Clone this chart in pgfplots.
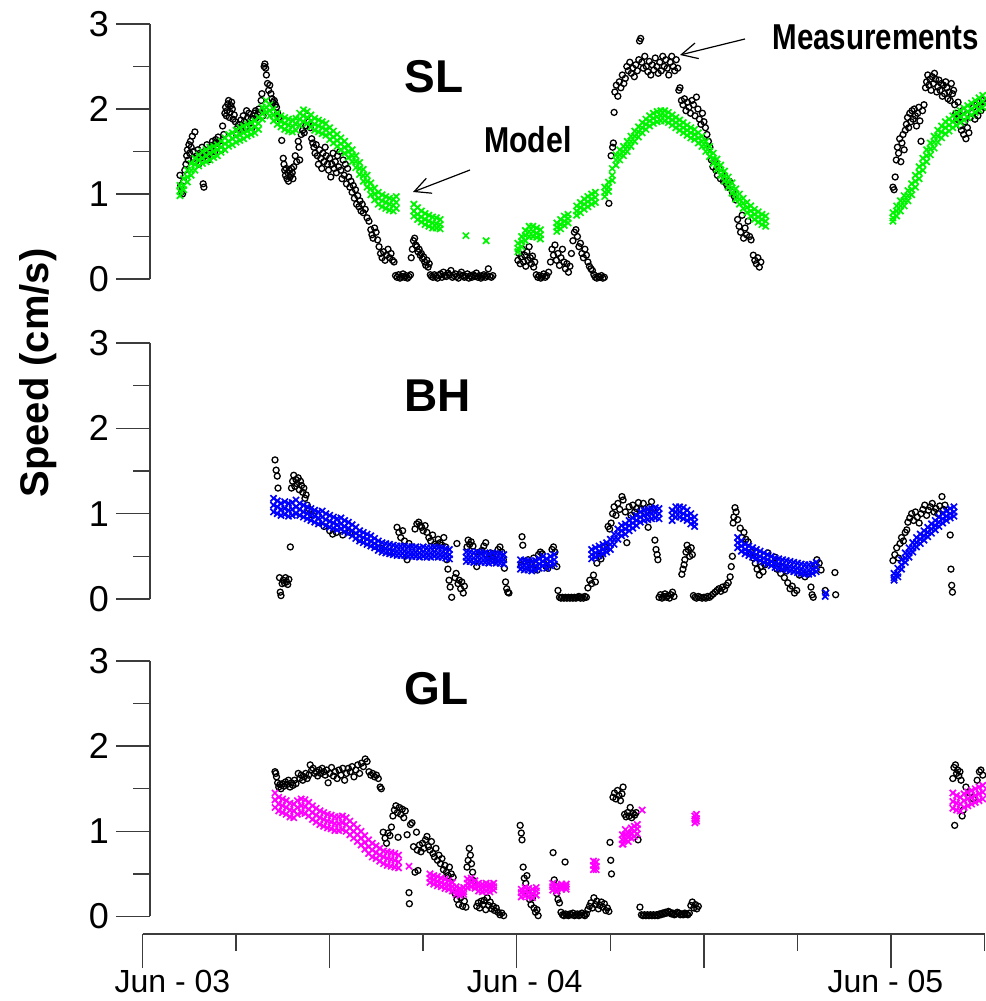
\documentclass[border=0pt]{standalone}
\usepackage{fontspec}
\setmainfont{Liberation Sans}
\usepackage{graphicx}
\usepackage{pgfplots}
\usepackage{pgfplotstable}
\pgfplotsset{compat=1.18}
\usetikzlibrary{arrows.meta}
\definecolor{mgreen}{RGB}{0,245,0}
\definecolor{mblue}{RGB}{0,0,255}
\definecolor{mmag}{RGB}{255,0,255}
\definecolor{axgray}{RGB}{60,60,60}

% ---------------- SL ----------------
\pgfplotstableread{
x y
0.100 1.22
0.102 1.10
0.104 1.02
0.107 1.00
0.110 1.15
0.113 1.28
0.116 1.35
0.118 1.45
0.120 1.52
0.122 1.40
0.124 1.58
0.126 1.48
0.128 1.62
0.130 1.55
0.133 1.68
0.136 1.50
0.138 1.42
0.140 1.73
0.142 1.38
0.145 1.45
0.148 1.52
0.150 1.35
0.153 1.48
0.156 1.42
0.159 1.55
0.162 1.12
0.164 1.08
0.166 1.50
0.169 1.45
0.172 1.58
0.175 1.40
0.178 1.52
0.181 1.48
0.184 1.56
0.187 1.62
0.190 1.58
0.193 1.50
0.196 1.64
0.199 1.60
0.202 1.67
0.205 1.62
0.208 1.58
0.211 1.52
0.214 1.80
0.217 1.70
0.220 1.95
0.222 2.02
0.224 1.92
0.226 1.98
0.228 2.06
0.230 2.10
0.232 1.90
0.234 1.96
0.236 2.04
0.238 2.08
0.240 2.00
0.242 1.88
0.245 1.93
0.248 1.85
0.251 1.70
0.254 1.78
0.257 1.82
0.260 1.76
0.263 1.87
0.266 1.80
0.269 1.92
0.272 1.85
0.275 1.78
0.278 1.98
0.281 1.90
0.284 1.95
0.287 1.83
0.290 1.88
0.293 1.78
0.296 1.92
0.299 1.95
0.302 1.98
0.305 1.90
0.308 1.94
0.311 2.00
0.314 1.96
0.317 2.10
0.319 2.18
0.322 1.92
0.325 2.50
0.327 2.53
0.329 2.48
0.331 2.40
0.334 2.30
0.337 2.22
0.340 2.28
0.343 2.18
0.346 2.12
0.349 2.08
0.352 2.10
0.355 2.05
0.358 2.02
0.361 1.95
0.364 1.90
0.367 1.88
0.372 1.63
0.376 1.42
0.378 1.35
0.380 1.28
0.382 1.22
0.384 1.30
0.386 1.18
0.388 1.25
0.390 1.15
0.392 1.28
0.394 1.20
0.396 1.22
0.398 1.30
0.400 1.25
0.402 1.18
0.404 1.32
0.408 1.45
0.412 1.38
0.416 1.62
0.418 1.55
0.420 1.40
0.424 1.70
0.428 1.75
0.432 1.72
0.436 1.80
0.440 1.92
0.444 1.85
0.448 1.78
0.452 1.65
0.455 1.60
0.458 1.55
0.461 1.48
0.464 1.58
0.467 1.45
0.470 1.35
0.473 1.52
0.476 1.42
0.479 1.30
0.482 1.48
0.485 1.38
0.488 1.55
0.491 1.45
0.494 1.35
0.497 1.28
0.500 1.42
0.503 1.20
0.506 1.35
0.509 1.48
0.512 1.30
0.515 1.38
0.518 1.25
0.521 1.45
0.524 1.32
0.527 1.50
0.530 1.28
0.533 1.18
0.536 1.40
0.539 1.22
0.542 1.35
0.545 1.12
0.548 1.30
0.551 1.20
0.554 1.08
0.557 1.15
0.560 1.02
0.563 1.10
0.566 0.95
0.569 1.05
0.572 0.88
0.575 0.98
0.578 0.85
0.581 0.92
0.584 0.80
0.587 0.88
0.590 0.78
0.595 0.82
0.600 0.72
0.605 0.68
0.610 0.58
0.613 0.52
0.616 0.48
0.620 0.60
0.624 0.55
0.628 0.46
0.632 0.38
0.636 0.30
0.640 0.25
0.644 0.32
0.648 0.22
0.652 0.28
0.656 0.35
0.660 0.25
0.664 0.30
0.668 0.22
0.672 0.20
0.676 0.04
0.680 0.02
0.684 0.05
0.688 0.01
0.692 0.03
0.696 0.06
0.700 0.02
0.704 0.04
0.708 0.01
0.712 0.03
0.716 0.05
0.718 0.25
0.721 0.35
0.724 0.45
0.727 0.48
0.730 0.40
0.733 0.38
0.736 0.32
0.739 0.35
0.742 0.28
0.745 0.30
0.748 0.24
0.751 0.26
0.754 0.20
0.757 0.16
0.760 0.22
0.763 0.14
0.766 0.18
0.769 0.05
0.772 0.03
0.776 0.02
0.780 0.05
0.784 0.03
0.788 0.01
0.792 0.04
0.796 0.06
0.800 0.02
0.804 0.08
0.808 0.04
0.812 0.03
0.816 0.07
0.820 0.05
0.824 0.10
0.828 0.02
0.832 0.04
0.836 0.06
0.840 0.03
0.844 0.01
0.848 0.05
0.852 0.08
0.856 0.04
0.860 0.02
0.864 0.03
0.868 0.06
0.872 0.01
0.876 0.04
0.880 0.02
0.884 0.05
0.888 0.03
0.892 0.07
0.896 0.02
0.900 0.04
0.904 0.01
0.908 0.03
0.912 0.05
0.916 0.02
0.920 0.04
0.924 0.12
0.928 0.03
0.932 0.02
0.936 0.04
1.003 0.22
1.006 0.30
1.009 0.18
1.012 0.26
1.015 0.35
1.018 0.20
1.021 0.28
1.024 0.15
1.027 0.32
1.030 0.22
1.033 0.38
1.036 0.25
1.039 0.18
1.042 0.27
1.045 0.14
1.048 0.20
1.052 0.05
1.056 0.02
1.060 0.04
1.064 0.01
1.068 0.03
1.072 0.06
1.076 0.02
1.080 0.04
1.085 0.08
1.090 0.20
1.094 0.35
1.098 0.28
1.102 0.40
1.106 0.22
1.110 0.30
1.114 0.16
1.118 0.25
1.122 0.35
1.126 0.20
1.130 0.12
1.134 0.18
1.138 0.08
1.142 0.15
1.146 0.30
1.150 0.45
1.154 0.55
1.158 0.58
1.162 0.50
1.166 0.38
1.170 0.42
1.174 0.30
1.178 0.25
1.182 0.35
1.186 0.28
1.190 0.20
1.194 0.15
1.198 0.12
1.202 0.10
1.206 0.05
1.210 0.02
1.214 0.01
1.218 0.03
1.222 0.02
1.226 0.04
1.230 0.01
1.234 0.02
1.246 0.89
1.252 1.45
1.256 1.55
1.258 1.60
1.260 1.96
1.262 2.20
1.266 2.28
1.270 2.15
1.274 2.32
1.278 2.25
1.282 2.40
1.286 2.30
1.290 2.36
1.294 2.50
1.298 2.45
1.302 2.55
1.306 2.42
1.310 2.48
1.314 2.38
1.318 2.52
1.322 2.45
1.326 2.58
1.328 2.80
1.331 2.83
1.334 2.55
1.338 2.48
1.342 2.62
1.346 2.50
1.350 2.44
1.354 2.56
1.358 2.40
1.362 2.52
1.366 2.46
1.370 2.60
1.374 2.50
1.378 2.42
1.382 2.55
1.386 2.45
1.390 2.62
1.394 2.50
1.398 2.58
1.402 2.48
1.406 2.40
1.410 2.55
1.414 2.62
1.418 2.50
1.422 2.45
1.426 2.58
1.430 2.48
1.433 2.22
1.436 2.25
1.440 2.10
1.444 2.05
1.448 2.12
1.452 1.98
1.456 2.08
1.460 2.02
1.464 1.95
1.468 2.10
1.472 2.05
1.476 1.92
1.480 2.14
1.484 2.00
1.488 1.88
1.492 1.82
1.496 1.95
1.500 1.85
1.504 1.78
1.508 1.70
1.512 1.62
1.516 1.55
1.520 1.40
1.524 1.32
1.528 1.38
1.532 1.28
1.536 1.22
1.540 1.30
1.544 1.18
1.548 1.25
1.552 1.15
1.556 1.20
1.560 1.12
1.564 1.08
1.568 1.15
1.572 1.10
1.576 1.02
1.580 0.98
1.585 0.93
1.590 0.70
1.594 0.62
1.598 0.55
1.602 0.75
1.606 0.48
1.610 0.60
1.614 0.52
1.618 0.68
1.622 0.50
1.626 0.46
1.632 0.28
1.636 0.22
1.640 0.18
1.644 0.25
1.648 0.14
1.652 0.20
2.005 1.08
2.008 1.05
2.011 1.20
2.014 1.40
2.017 1.55
2.020 1.48
2.023 1.65
2.026 1.38
2.029 1.60
2.032 1.70
2.035 1.52
2.038 1.75
2.041 1.82
2.044 1.90
2.047 1.78
2.050 1.95
2.053 1.85
2.056 1.98
2.059 1.88
2.062 2.00
2.065 1.92
2.068 1.80
2.071 1.95
2.074 2.02
2.077 1.86
2.080 1.62
2.084 1.98
2.088 2.05
2.092 2.25
2.095 2.32
2.098 2.40
2.101 2.28
2.104 2.35
2.107 2.22
2.110 2.38
2.113 2.30
2.116 2.42
2.119 2.35
2.122 2.20
2.125 2.26
2.128 2.34
2.131 2.22
2.134 2.30
2.137 2.15
2.140 2.28
2.143 2.18
2.146 2.32
2.149 2.25
2.152 2.12
2.155 2.20
2.158 2.10
2.161 2.30
2.164 2.18
2.167 2.22
2.170 2.05
2.173 1.95
2.176 1.88
2.179 2.08
2.182 1.90
2.185 1.80
2.188 1.75
2.191 1.98
2.194 1.70
2.197 1.85
2.200 1.65
2.204 1.78
2.208 1.72
2.212 1.90
2.216 1.95
2.220 2.02
2.224 1.88
2.228 2.05
2.232 1.92
2.236 2.08
2.240 1.98
2.244 2.10
2.248 2.02
}\slmeas

\pgfplotstableread{
x hi mid lo
0.100 1.10 1.03 0.98
0.110 1.18 1.10 1.05
0.120 1.28 1.20 1.14
0.130 1.36 1.28 1.22
0.140 1.42 1.35 1.28
0.150 1.46 1.40 1.33
0.160 1.50 1.42 1.36
0.170 1.52 1.45 1.38
0.180 1.55 1.48 1.40
0.190 1.56 1.50 1.43
0.200 1.58 1.52 1.45
0.210 1.62 1.55 1.49
0.220 1.66 1.59 1.52
0.230 1.70 1.62 1.56
0.240 1.72 1.65 1.58
0.250 1.75 1.68 1.61
0.260 1.78 1.70 1.63
0.270 1.80 1.72 1.65
0.280 1.82 1.74 1.68
0.290 1.84 1.76 1.70
0.300 1.86 1.79 1.72
0.310 1.90 1.83 1.76
0.320 2.02 1.95 1.88
0.330 2.10 2.02 1.96
0.340 2.05 1.98 1.92
0.350 2.00 1.93 1.86
0.360 1.95 1.88 1.82
0.370 1.92 1.85 1.79
0.380 1.90 1.83 1.76
0.390 1.88 1.81 1.74
0.400 1.87 1.80 1.73
0.410 1.89 1.82 1.75
0.420 1.95 1.88 1.81
0.430 1.99 1.92 1.85
0.440 1.97 1.90 1.83
0.450 1.93 1.86 1.79
0.460 1.89 1.82 1.75
0.470 1.87 1.80 1.73
0.480 1.85 1.78 1.71
0.490 1.83 1.76 1.69
0.500 1.78 1.71 1.64
0.510 1.74 1.67 1.60
0.520 1.70 1.63 1.56
0.530 1.66 1.59 1.52
0.540 1.62 1.55 1.48
0.550 1.57 1.50 1.43
0.560 1.52 1.45 1.38
0.570 1.45 1.38 1.31
0.580 1.37 1.30 1.23
0.590 1.29 1.22 1.15
0.600 1.22 1.15 1.08
0.610 1.13 1.06 0.99
0.620 1.07 1.00 0.93
0.630 1.02 0.95 0.88
0.640 0.99 0.92 0.85
0.650 0.97 0.90 0.83
0.660 0.95 0.88 0.81
0.670 0.94 0.87 0.80
0.678 0.97 0.90 0.83
0.725 0.88 0.80 0.74
0.735 0.84 0.76 0.70
0.745 0.80 0.73 0.67
0.755 0.77 0.70 0.64
0.765 0.75 0.68 0.62
0.775 0.73 0.66 0.60
0.785 0.72 0.65 0.60
0.795 0.70 0.64 0.59
1.003 0.42 0.36 0.32
1.013 0.50 0.44 0.38
1.023 0.57 0.51 0.45
1.033 0.62 0.56 0.50
1.043 0.62 0.56 0.50
1.053 0.60 0.54 0.49
1.063 0.58 0.52 0.47
1.107 0.66 0.61 0.56
1.117 0.70 0.64 0.59
1.127 0.74 0.68 0.63
1.137 0.76 0.71 0.66
1.160 0.86 0.80 0.75
1.170 0.90 0.84 0.78
1.180 0.94 0.88 0.82
1.190 0.97 0.91 0.85
1.200 1.00 0.94 0.88
1.210 1.02 0.96 0.90
1.235 1.08 1.02 0.97
1.245 1.14 1.08 1.03
1.255 1.30 1.22 1.16
1.265 1.46 1.40 1.34
1.275 1.52 1.46 1.40
1.285 1.56 1.50 1.45
1.295 1.62 1.56 1.50
1.305 1.68 1.62 1.56
1.315 1.74 1.68 1.62
1.325 1.79 1.73 1.67
1.335 1.84 1.78 1.72
1.345 1.88 1.82 1.76
1.355 1.92 1.86 1.80
1.365 1.95 1.89 1.83
1.375 1.97 1.91 1.85
1.385 1.98 1.92 1.86
1.395 1.98 1.92 1.86
1.405 1.96 1.90 1.84
1.415 1.93 1.87 1.81
1.425 1.90 1.84 1.78
1.435 1.87 1.81 1.75
1.445 1.84 1.78 1.72
1.455 1.81 1.75 1.69
1.465 1.78 1.72 1.66
1.475 1.76 1.70 1.64
1.485 1.72 1.66 1.60
1.495 1.68 1.62 1.56
1.505 1.62 1.56 1.50
1.515 1.56 1.50 1.44
1.525 1.48 1.42 1.36
1.535 1.41 1.35 1.29
1.545 1.34 1.28 1.22
1.555 1.27 1.21 1.15
1.565 1.20 1.14 1.08
1.575 1.13 1.07 1.01
1.585 1.06 1.00 0.94
1.595 1.00 0.94 0.88
1.605 0.95 0.89 0.83
1.615 0.90 0.84 0.78
1.625 0.86 0.80 0.74
1.635 0.82 0.76 0.70
1.645 0.79 0.73 0.67
1.655 0.76 0.70 0.64
1.665 0.74 0.68 0.62
2.005 0.78 0.72 0.68
2.015 0.86 0.80 0.74
2.025 0.92 0.86 0.80
2.035 0.98 0.92 0.86
2.045 1.04 0.98 0.92
2.055 1.12 1.05 0.99
2.065 1.22 1.15 1.08
2.075 1.32 1.25 1.18
2.085 1.42 1.35 1.28
2.095 1.52 1.45 1.38
2.105 1.60 1.53 1.46
2.115 1.68 1.61 1.54
2.125 1.75 1.68 1.61
2.135 1.80 1.73 1.66
2.145 1.85 1.78 1.71
2.155 1.88 1.81 1.74
2.165 1.92 1.85 1.78
2.175 1.95 1.88 1.81
2.185 1.98 1.91 1.84
2.195 2.01 1.94 1.87
2.205 2.04 1.97 1.90
2.215 2.07 2.00 1.93
2.225 2.10 2.03 1.96
2.235 2.13 2.06 1.99
2.245 2.16 2.09 2.02
}\slmod

% ---------------- BH ----------------
\pgfplotstableread{
x y
0.354 1.63
0.357 1.51
0.360 1.44
0.362 1.30
0.366 0.25
0.368 0.08
0.370 0.04
0.373 0.18
0.376 0.22
0.379 0.19
0.382 0.25
0.385 0.20
0.388 0.17
0.391 0.23
0.395 0.61
0.398 1.30
0.401 1.38
0.404 1.45
0.407 1.32
0.410 1.40
0.413 1.35
0.416 1.42
0.419 1.28
0.422 1.38
0.425 1.33
0.428 1.25
0.431 1.30
0.434 1.18
0.437 1.22
0.440 1.10
0.446 1.05
0.455 0.98
0.470 0.90
0.485 0.85
0.500 0.80
0.508 0.76
0.518 0.78
0.535 0.75
0.554 0.78
0.580 0.70
0.600 0.66
0.620 0.62
0.635 0.60
0.660 0.55
0.680 0.84
0.685 0.78
0.690 0.72
0.695 0.80
0.700 0.68
0.707 0.46
0.712 0.65
0.728 0.82
0.733 0.88
0.738 0.90
0.742 0.86
0.746 0.84
0.750 0.80
0.755 0.86
0.760 0.78
0.765 0.72
0.770 0.68
0.775 0.75
0.780 0.64
0.785 0.62
0.790 0.70
0.795 0.66
0.800 0.63
0.805 0.72
0.810 0.61
0.813 0.46
0.816 0.35
0.819 0.22
0.822 0.14
0.826 0.02
0.835 0.25
0.838 0.30
0.840 0.65
0.843 0.18
0.846 0.22
0.850 0.12
0.853 0.20
0.857 0.07
0.860 0.15
0.867 0.61
0.870 0.69
0.874 0.64
0.878 0.67
0.883 0.62
0.893 0.38
0.900 0.55
0.907 0.57
0.912 0.62
0.917 0.66
0.920 0.52
0.925 0.48
0.930 0.54
0.935 0.50
0.940 0.46
0.945 0.52
0.950 0.58
0.955 0.61
0.960 0.55
0.964 0.46
0.967 0.36
0.970 0.20
0.973 0.12
0.976 0.08
0.979 0.07
1.012 0.40
1.014 0.73
1.016 0.63
1.020 0.44
1.025 0.38
1.030 0.46
1.035 0.42
1.040 0.36
1.045 0.48
1.050 0.40
1.055 0.34
1.058 0.52
1.063 0.55
1.068 0.53
1.072 0.42
1.078 0.38
1.083 0.36
1.088 0.40
1.094 0.58
1.098 0.61
1.102 0.55
1.107 0.38
1.110 0.10
1.114 0.02
1.118 0.01
1.122 0.02
1.126 0.01
1.130 0.02
1.134 0.01
1.138 0.02
1.142 0.01
1.146 0.02
1.150 0.01
1.154 0.02
1.158 0.01
1.162 0.02
1.166 0.03
1.170 0.01
1.174 0.02
1.178 0.01
1.182 0.03
1.186 0.02
1.190 0.13
1.195 0.22
1.200 0.18
1.205 0.28
1.210 0.20
1.214 0.42
1.220 0.50
1.225 0.47
1.230 0.55
1.235 0.61
1.240 0.58
1.244 0.85
1.248 0.82
1.252 0.89
1.256 1.00
1.260 1.08
1.265 0.98
1.270 1.12
1.275 1.05
1.281 1.20
1.284 1.16
1.290 1.02
1.294 0.66
1.300 1.08
1.305 0.98
1.310 1.10
1.315 1.02
1.320 1.06
1.325 1.13
1.332 1.05
1.338 1.12
1.344 1.02
1.351 0.84
1.355 1.08
1.360 1.14
1.364 1.06
1.369 0.69
1.372 0.58
1.375 0.52
1.377 0.46
1.380 0.02
1.384 0.05
1.388 0.01
1.392 0.03
1.396 0.06
1.400 0.02
1.404 0.04
1.408 0.01
1.412 0.05
1.416 0.08
1.420 0.03
1.441 0.29
1.444 0.35
1.447 0.40
1.449 0.46
1.452 0.55
1.455 0.63
1.458 0.58
1.462 0.50
1.466 0.60
1.469 0.52
1.472 0.04
1.476 0.02
1.480 0.01
1.485 0.03
1.490 0.02
1.495 0.01
1.500 0.02
1.505 0.01
1.510 0.03
1.515 0.02
1.520 0.04
1.525 0.06
1.530 0.08
1.535 0.10
1.540 0.12
1.545 0.09
1.550 0.14
1.555 0.11
1.560 0.16
1.565 0.19
1.570 0.26
1.573 0.38
1.576 0.50
1.578 0.89
1.580 0.96
1.583 1.07
1.586 1.02
1.590 0.93
1.597 0.83
1.602 0.72
1.607 0.78
1.612 0.70
1.618 0.67
1.625 0.55
1.632 0.48
1.637 0.42
1.642 0.35
1.648 0.28
1.653 0.38
1.658 0.32
1.663 0.40
1.671 0.54
1.684 0.42
1.690 0.49
1.695 0.35
1.700 0.45
1.705 0.30
1.710 0.38
1.715 0.25
1.720 0.33
1.724 0.19
1.730 0.12
1.736 0.15
1.742 0.07
1.748 0.10
1.755 0.28
1.762 0.30
1.770 0.26
1.778 0.29
1.786 0.14
1.789 0.05
1.792 0.02
1.797 0.40
1.802 0.46
1.808 0.42
1.813 0.34
1.824 0.10
1.850 0.31
1.852 0.05
2.005 0.45
2.010 0.52
2.015 0.60
2.020 0.48
2.024 0.65
2.028 0.72
2.033 0.68
2.038 0.78
2.042 0.81
2.045 0.90
2.050 0.95
2.055 1.00
2.060 0.92
2.065 1.02
2.070 0.96
2.075 0.89
2.080 1.00
2.085 1.05
2.090 1.10
2.095 0.98
2.100 1.04
2.105 1.08
2.110 1.12
2.115 1.02
2.120 1.06
2.125 1.00
2.130 1.09
2.136 1.20
2.140 1.05
2.144 1.10
2.158 0.75
2.160 0.35
2.162 0.16
2.164 0.08
}\bhmeas

\pgfplotstableread{
x hi mid lo
0.350 1.18 1.10 1.02
0.360 1.15 1.08 1.00
0.370 1.12 1.05 0.98
0.380 1.14 1.06 0.99
0.390 1.12 1.04 0.97
0.400 1.13 1.05 0.98
0.410 1.16 1.08 1.00
0.420 1.12 1.05 0.98
0.430 1.10 1.02 0.96
0.440 1.08 1.00 0.94
0.450 1.06 0.98 0.92
0.460 1.04 0.97 0.90
0.470 1.02 0.95 0.88
0.480 1.03 0.96 0.89
0.490 1.00 0.93 0.86
0.500 0.98 0.91 0.84
0.510 0.96 0.89 0.83
0.520 0.94 0.87 0.81
0.530 0.95 0.88 0.82
0.540 0.92 0.85 0.79
0.550 0.90 0.83 0.77
0.560 0.87 0.80 0.74
0.570 0.84 0.77 0.71
0.580 0.80 0.74 0.68
0.590 0.78 0.72 0.66
0.600 0.76 0.70 0.64
0.610 0.74 0.68 0.62
0.620 0.71 0.65 0.60
0.630 0.68 0.62 0.57
0.640 0.66 0.60 0.55
0.650 0.65 0.59 0.54
0.660 0.64 0.58 0.53
0.670 0.63 0.57 0.52
0.680 0.62 0.56 0.51
0.690 0.62 0.56 0.51
0.700 0.62 0.56 0.51
0.710 0.61 0.55 0.50
0.720 0.61 0.55 0.50
0.730 0.61 0.55 0.50
0.740 0.60 0.54 0.49
0.750 0.61 0.55 0.50
0.760 0.60 0.54 0.49
0.770 0.60 0.54 0.49
0.780 0.61 0.55 0.50
0.790 0.60 0.54 0.49
0.800 0.60 0.54 0.49
0.810 0.59 0.53 0.48
0.820 0.58 0.52 0.47
0.865 0.55 0.49 0.44
0.875 0.55 0.49 0.44
0.885 0.54 0.48 0.43
0.895 0.55 0.49 0.44
0.905 0.54 0.48 0.43
0.915 0.54 0.48 0.43
0.925 0.53 0.47 0.42
0.935 0.54 0.48 0.43
0.945 0.53 0.47 0.42
0.955 0.53 0.47 0.42
0.965 0.52 0.46 0.41
1.010 0.46 0.40 0.35
1.020 0.45 0.39 0.34
1.030 0.45 0.39 0.34
1.040 0.44 0.38 0.33
1.050 0.45 0.39 0.34
1.060 0.47 0.41 0.36
1.070 0.50 0.44 0.39
1.080 0.47 0.41 0.36
1.090 0.50 0.44 0.39
1.100 0.52 0.46 0.41
1.200 0.58 0.52 0.47
1.210 0.60 0.54 0.49
1.220 0.62 0.56 0.51
1.230 0.64 0.58 0.53
1.240 0.66 0.60 0.55
1.250 0.70 0.64 0.58
1.260 0.76 0.70 0.64
1.270 0.82 0.76 0.70
1.280 0.86 0.80 0.74
1.290 0.88 0.82 0.76
1.300 0.92 0.86 0.80
1.310 0.95 0.89 0.83
1.320 0.98 0.92 0.86
1.330 1.02 0.96 0.90
1.340 1.04 0.98 0.92
1.350 1.05 0.99 0.93
1.360 1.06 1.00 0.94
1.370 1.07 1.01 0.95
1.380 1.06 1.00 0.94
1.415 1.04 0.98 0.92
1.425 1.08 1.02 0.96
1.435 1.08 1.02 0.96
1.445 1.07 1.00 0.94
1.455 1.04 0.98 0.92
1.465 1.00 0.94 0.88
1.475 0.96 0.90 0.85
1.590 0.72 0.66 0.60
1.600 0.68 0.62 0.56
1.610 0.64 0.58 0.53
1.620 0.62 0.56 0.51
1.630 0.60 0.54 0.49
1.640 0.58 0.52 0.47
1.650 0.56 0.50 0.45
1.660 0.54 0.48 0.43
1.670 0.52 0.46 0.41
1.680 0.50 0.44 0.39
1.690 0.48 0.42 0.37
1.700 0.47 0.41 0.36
1.710 0.46 0.40 0.35
1.720 0.45 0.39 0.34
1.730 0.44 0.38 0.33
1.740 0.43 0.37 0.32
1.750 0.42 0.36 0.31
1.760 0.41 0.35 0.30
1.770 0.40 0.34 0.29
1.780 0.40 0.34 0.29
1.790 0.41 0.35 0.30
1.800 0.43 0.37 0.32
2.008 0.30 0.25 0.22
2.018 0.36 0.30 0.26
2.028 0.46 0.40 0.35
2.038 0.54 0.48 0.43
2.048 0.60 0.54 0.49
2.058 0.66 0.60 0.55
2.068 0.72 0.66 0.61
2.078 0.76 0.70 0.65
2.088 0.80 0.74 0.69
2.098 0.84 0.78 0.73
2.108 0.88 0.82 0.77
2.118 0.92 0.86 0.81
2.128 0.96 0.90 0.85
2.138 1.00 0.94 0.89
2.148 1.03 0.97 0.92
2.158 1.06 1.00 0.95
2.168 1.08 1.02 0.97
}\bhmod

% ---------------- GL ----------------
\pgfplotstableread{
x y
0.354 1.70
0.356 1.68
0.358 1.64
0.361 1.57
0.364 1.52
0.367 1.55
0.370 1.50
0.374 1.56
0.378 1.53
0.382 1.58
0.386 1.55
0.390 1.60
0.394 1.52
0.398 1.57
0.402 1.54
0.406 1.60
0.410 1.56
0.416 1.68
0.420 1.62
0.424 1.66
0.428 1.60
0.432 1.64
0.436 1.68
0.440 1.62
0.444 1.66
0.448 1.78
0.452 1.72
0.456 1.74
0.460 1.68
0.464 1.70
0.468 1.65
0.472 1.72
0.476 1.68
0.480 1.74
0.484 1.70
0.488 1.66
0.492 1.72
0.496 1.57
0.500 1.68
0.505 1.75
0.510 1.65
0.515 1.70
0.520 1.62
0.525 1.72
0.530 1.66
0.535 1.74
0.540 1.60
0.545 1.68
0.550 1.74
0.555 1.70
0.560 1.76
0.565 1.64
0.570 1.72
0.575 1.78
0.580 1.68
0.585 1.80
0.590 1.76
0.595 1.85
0.600 1.82
0.605 1.70
0.610 1.66
0.615 1.68
0.620 1.64
0.625 1.66
0.630 1.62
0.635 1.52
0.638 1.50
0.643 0.99
0.648 0.92
0.652 0.86
0.656 0.98
0.661 0.95
0.665 1.05
0.669 1.18
0.673 1.25
0.677 1.30
0.681 1.22
0.683 0.93
0.686 1.28
0.690 1.20
0.694 1.26
0.698 1.16
0.702 1.24
0.707 0.96
0.712 0.28
0.713 0.15
0.716 1.08
0.720 1.10
0.724 0.82
0.728 0.52
0.732 0.99
0.734 0.78
0.736 0.54
0.740 0.84
0.744 0.76
0.748 0.86
0.752 0.80
0.756 0.90
0.760 0.94
0.764 0.82
0.768 0.78
0.772 0.88
0.776 0.74
0.780 0.70
0.784 0.80
0.788 0.66
0.792 0.72
0.796 0.62
0.800 0.68
0.804 0.55
0.808 0.60
0.812 0.52
0.816 0.48
0.820 0.58
0.825 0.50
0.830 0.46
0.835 0.27
0.840 0.20
0.845 0.14
0.850 0.22
0.855 0.12
0.860 0.18
0.864 0.11
0.867 0.58
0.870 0.66
0.873 0.80
0.876 0.72
0.879 0.62
0.882 0.52
0.885 0.42
0.888 0.35
0.893 0.12
0.897 0.16
0.901 0.10
0.905 0.18
0.909 0.14
0.913 0.19
0.917 0.08
0.921 0.22
0.925 0.13
0.929 0.17
0.933 0.09
0.937 0.12
0.941 0.07
0.945 0.10
0.950 0.05
0.955 0.02
0.960 0.04
0.965 0.01
1.009 1.07
1.012 0.98
1.014 0.90
1.017 0.58
1.020 0.45
1.024 0.39
1.027 0.48
1.030 0.27
1.034 0.20
1.038 0.14
1.042 0.22
1.046 0.10
1.050 0.05
1.054 0.08
1.057 0.01
1.097 0.75
1.100 0.43
1.104 0.35
1.107 0.27
1.110 0.20
1.114 0.16
1.118 0.05
1.122 0.02
1.126 0.01
1.129 0.64
1.130 0.03
1.134 0.02
1.138 0.01
1.142 0.03
1.146 0.02
1.150 0.04
1.154 0.01
1.158 0.02
1.162 0.03
1.166 0.01
1.170 0.02
1.174 0.04
1.178 0.02
1.182 0.01
1.186 0.03
1.190 0.08
1.194 0.12
1.198 0.16
1.202 0.10
1.206 0.22
1.210 0.14
1.214 0.18
1.218 0.09
1.222 0.13
1.226 0.17
1.230 0.11
1.234 0.15
1.238 0.07
1.242 0.10
1.246 0.06
1.249 0.87
1.251 0.66
1.253 0.50
1.257 1.40
1.261 1.45
1.265 1.38
1.269 1.48
1.273 1.42
1.277 1.36
1.281 1.44
1.284 1.52
1.288 1.20
1.292 1.17
1.296 1.22
1.300 1.18
1.303 1.28
1.307 1.16
1.311 1.21
1.315 1.19
1.319 1.22
1.324 0.90
1.329 0.11
1.333 0.02
1.337 0.01
1.341 0.02
1.345 0.01
1.349 0.02
1.353 0.01
1.357 0.02
1.361 0.01
1.365 0.02
1.369 0.01
1.373 0.02
1.377 0.01
1.381 0.03
1.385 0.02
1.389 0.04
1.393 0.03
1.397 0.05
1.401 0.04
1.405 0.06
1.409 0.05
1.413 0.03
1.417 0.04
1.421 0.02
1.425 0.03
1.429 0.05
1.433 0.04
1.437 0.02
1.441 0.03
1.445 0.02
1.449 0.04
1.453 0.03
1.457 0.02
1.461 0.04
1.465 0.13
1.469 0.17
1.473 0.10
1.477 0.14
1.481 0.09
1.485 0.12
2.165 1.62
2.168 1.75
2.170 1.07
2.172 1.78
2.175 1.68
2.178 1.72
2.181 1.65
2.184 1.70
2.187 1.60
2.190 1.18
2.193 1.25
2.200 1.52
2.210 1.45
2.220 1.38
2.230 1.60
2.236 1.70
2.240 1.72
2.245 1.66
}\glmeas

\pgfplotstableread{
x hi mid lo
0.354 1.45 1.37 1.28
0.364 1.40 1.32 1.24
0.374 1.38 1.30 1.22
0.384 1.36 1.28 1.20
0.394 1.33 1.25 1.17
0.404 1.32 1.24 1.16
0.414 1.36 1.28 1.20
0.424 1.38 1.30 1.22
0.434 1.37 1.29 1.21
0.444 1.34 1.26 1.18
0.454 1.30 1.22 1.14
0.464 1.27 1.19 1.11
0.474 1.24 1.16 1.08
0.484 1.22 1.14 1.06
0.494 1.20 1.12 1.04
0.504 1.19 1.11 1.03
0.514 1.17 1.09 1.01
0.524 1.17 1.09 1.01
0.534 1.18 1.10 1.02
0.544 1.16 1.08 1.00
0.554 1.12 1.04 0.96
0.564 1.08 1.00 0.92
0.574 1.04 0.96 0.88
0.584 1.00 0.92 0.84
0.594 0.95 0.87 0.79
0.604 0.90 0.82 0.74
0.614 0.86 0.78 0.70
0.624 0.83 0.75 0.68
0.634 0.80 0.72 0.65
0.644 0.77 0.70 0.62
0.654 0.76 0.68 0.60
0.664 0.75 0.67 0.59
0.674 0.74 0.66 0.58
0.684 0.72 0.64 0.57
0.768 0.50 0.45 0.40
0.778 0.48 0.43 0.38
0.788 0.47 0.41 0.36
0.798 0.45 0.40 0.35
0.808 0.44 0.38 0.33
0.818 0.42 0.37 0.32
0.828 0.40 0.35 0.30
0.838 0.35 0.30 0.26
0.848 0.33 0.29 0.25
0.858 0.34 0.29 0.26
0.868 0.44 0.39 0.34
0.878 0.45 0.40 0.35
0.888 0.42 0.37 0.33
0.898 0.39 0.35 0.30
0.908 0.38 0.34 0.29
0.918 0.39 0.35 0.30
0.928 0.38 0.34 0.29
0.938 0.39 0.35 0.31
1.012 0.32 0.28 0.23
1.022 0.34 0.29 0.24
1.032 0.33 0.28 0.23
1.042 0.32 0.27 0.22
1.052 0.34 0.30 0.25
1.096 0.39 0.35 0.31
1.106 0.37 0.33 0.29
1.120 0.38 0.35 0.32
1.132 0.38 0.35 0.32
1.205 0.65 0.60 0.55
1.212 0.64 0.59 0.55
1.282 0.96 0.90 0.85
1.290 1.02 0.96 0.90
1.298 0.98 0.93 0.88
1.306 1.04 0.98 0.92
1.314 1.06 1.00 0.94
1.322 1.08 1.03 0.97
1.476 1.18 1.14 1.10
1.480 1.20 1.15 1.12
2.165 1.45 1.35 1.27
2.175 1.42 1.33 1.25
2.185 1.40 1.32 1.24
2.195 1.44 1.36 1.28
2.205 1.46 1.38 1.30
2.215 1.48 1.40 1.32
2.225 1.50 1.42 1.34
2.235 1.52 1.44 1.36
2.245 1.54 1.46 1.38
}\glmod

\pgfplotsset{
  panel/.style={
    scale only axis, width=417.5pt, anchor=south west,
    xmin=0.02, xmax=2.251, ymin=0, ymax=3,
    axis y line*=left, axis x line=none, xtick=\empty,
    ytick={0,1,2,3}, minor ytick={0.5,1.5,2.5},
    tick align=outside, major tick length=17pt, minor tick length=8.5pt,
    axis line style={axgray, line width=0.7pt},
    tick style={axgray, line width=0.7pt},
    yticklabel style={font=\fontsize{18}{18}\selectfont, black},
    /pgf/number format/assume math mode=true,
    clip=false,
  },
  meas/.style={only marks, mark=o, black, mark size=1.5pt, mark options={line width=0.65pt}},
  modl/.style={only marks, mark=x, color=#1, mark size=2.2pt, mark options={line width=0.85pt}},
}

\begin{document}
\begin{tikzpicture}
\useasboundingbox (0,0) rectangle (492.5pt,500.5pt);

% ---- SL panel
\begin{axis}[panel, height=127.5pt, at={(75pt,361pt)}]
\addplot[meas] table[x=x,y=y] {\slmeas};
\addplot[modl=mgreen] table[x=x,y=hi] {\slmod};
\addplot[modl=mgreen] table[x=x,y=mid] {\slmod};
\addplot[modl=mgreen] table[x=x,y=lo] {\slmod};
\addplot[modl=mgreen] coordinates {(0.864,0.51) (0.918,0.45)};
\end{axis}

% ---- BH panel
\begin{axis}[panel, height=128pt, at={(75pt,201pt)}]
\addplot[meas] table[x=x,y=y] {\bhmeas};
\addplot[modl=mblue] table[x=x,y=hi] {\bhmod};
\addplot[modl=mblue] table[x=x,y=mid] {\bhmod};
\addplot[modl=mblue] table[x=x,y=lo] {\bhmod};
\addplot[modl=mblue] coordinates {(1.824,0.03) (1.826,0.07)};
\end{axis}

% ---- GL panel
\begin{axis}[panel, height=127.75pt, at={(75pt,42.25pt)}]
\addplot[meas] table[x=x,y=y] {\glmeas};
\addplot[modl=mmag] table[x=x,y=hi] {\glmod};
\addplot[modl=mmag] table[x=x,y=mid] {\glmod};
\addplot[modl=mmag] table[x=x,y=lo] {\glmod};
\addplot[modl=mmag] coordinates {(0.712,0.59) (1.284,0.85) (1.335,1.25)};
\end{axis}

% ---- shared time axis
\begin{axis}[scale only axis, width=421.25pt, height=10pt, anchor=south west,
  at={(71.25pt,33.5pt)},
  xmin=0, xmax=2.2513, ymin=0, ymax=1,
  axis x line*=bottom, axis y line=none, ytick=\empty,
  xtick={0,0.5,1,1.5,2}, minor xtick={0.25,0.75,1.25,1.75,2.25},
  xticklabels={\hspace*{30pt}Jun - 03,,\hspace*{8pt}Jun - 04,,Jun - 05\hspace*{5.5pt}},
  xticklabel style={font=\fontsize{16}{16}\selectfont, black, inner sep=1pt},
  tick align=outside, major tick length=17pt, minor tick length=8.5pt,
  axis line style={axgray, line width=0.7pt},
  tick style={axgray, line width=0.7pt},
  clip=false]
\addplot[draw=none, forget plot] coordinates {(0,0.5)};
\end{axis}

% ---- labels
\node[rotate=90, anchor=base, font=\fontsize{20}{20}\selectfont\bfseries] at (24pt,314pt) {Speed (cm/s)};
\node[font=\fontsize{23}{23}\selectfont\bfseries, inner sep=0pt] at (217pt,462.25pt) {SL};
\node[font=\fontsize{23}{23}\selectfont\bfseries, inner sep=0pt] at (219pt,302.75pt) {BH};
\node[font=\fontsize{23}{23}\selectfont\bfseries, inner sep=0pt] at (218.3pt,156.25pt) {GL};
\node[inner sep=0pt] at (264pt,430.5pt) {\scalebox{0.84}[1]{\fontsize{18}{18}\selectfont\bfseries Model}};
\node[inner sep=0pt, anchor=west] at (386pt,481.75pt) {\scalebox{0.82}[1]{\fontsize{18}{18}\selectfont\bfseries Measurements}};
\draw[line width=0.6pt, -{Straight Barb[length=8pt,width=8pt]}] (235pt,415.5pt) -- (206.5pt,404.5pt);
\draw[line width=0.6pt, -{Straight Barb[length=8pt,width=8pt]}] (372.5pt,481pt) -- (340pt,473pt);
\end{tikzpicture}
\end{document}
